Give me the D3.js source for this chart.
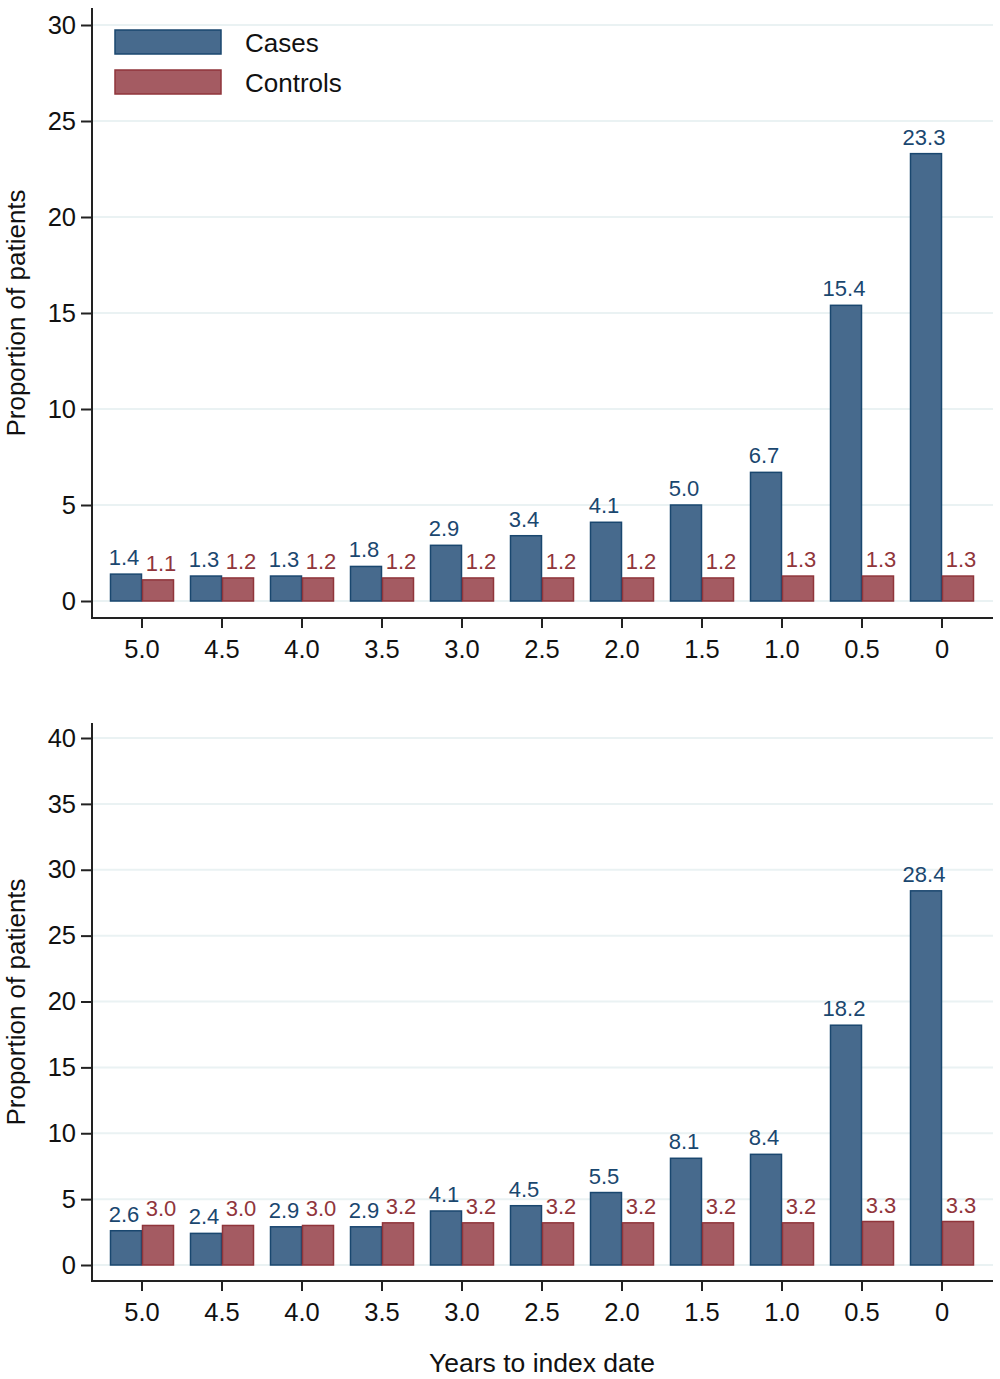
<!DOCTYPE html>
<html>
<head>
<meta charset="utf-8">
<script src="https://cdn.jsdelivr.net/npm/d3@7"></script>
<style>
  body { margin: 0; background: #fff; }
  svg { font-family: "Liberation Sans", Arial, sans-serif; }
</style>
</head>
<body>
<div id="viz"></div>
<script>
// Years to index date
const years = ["5.0", "4.5", "4.0", "3.5", "3.0", "2.5", "2.0", "1.5", "1.0", "0.5", "0"];
const seriesNames = ["Cases", "Controls"];

const topCases    = [1.4, 1.3, 1.3, 1.8, 2.9, 3.4, 4.1, 5.0, 6.7, 15.4, 23.3];
const topControls = [1.1, 1.2, 1.2, 1.2, 1.2, 1.2, 1.2, 1.2, 1.3, 1.3, 1.3];
const topTicks    = [0, 5, 10, 15, 20, 25, 30];

const botCases    = [2.6, 2.4, 2.9, 2.9, 4.1, 4.5, 5.5, 8.1, 8.4, 18.2, 28.4];
const botControls = [3.0, 3.0, 3.0, 3.2, 3.2, 3.2, 3.2, 3.2, 3.2, 3.3, 3.3];
const botTicks    = [0, 5, 10, 15, 20, 25, 30, 35, 40];

const width = 1000, height = 1379;
const fills   = ["#476a8d", "#a45b62"];
const strokes = ["#1a476f", "#90353b"];
const labelShift = [-2, 3];
const axisLeft = 92, axisRight = 993;

const svg = d3.select("#viz").append("svg")
    .attr("width", width)
    .attr("height", height);

const x = d3.scaleBand().domain(years).range([102, 982])
    .paddingInner(0.2).paddingOuter(0.1);
const xSub = d3.scaleBand().domain(seriesNames).range([0, x.bandwidth()]);

function drawPanel(cases, controls, ticks, axisTop, zeroY, maxY, xAxisY) {
    const y = d3.scaleLinear().domain([0, d3.max(ticks)]).range([zeroY, maxY]);
    const g = svg.append("g");

    // grid
    g.selectAll("line.grid").data(ticks).enter().append("line")
        .attr("x1", axisLeft + 1).attr("x2", axisRight)
        .attr("y1", d => y(d)).attr("y2", d => y(d))
        .attr("stroke", "#eaf2f3").attr("stroke-width", 2);

    // bars
    const rows = years.map((yr, i) => ({ yr, vals: [cases[i], controls[i]] }));
    const grp = g.selectAll("g.grp").data(rows).enter().append("g")
        .attr("transform", d => `translate(${x(d.yr)},0)`);

    grp.selectAll("rect").data(d => d.vals.map((v, k) => ({ v, k })))
        .enter().append("rect")
        .attr("x", d => xSub(seriesNames[d.k]) + 0.5)
        .attr("width", xSub.bandwidth() - 1)
        .attr("y", d => y(d.v))
        .attr("height", d => y(0) - y(d.v))
        .attr("fill", d => fills[d.k])
        .attr("stroke", d => strokes[d.k])
        .attr("stroke-width", 1.5);

    grp.selectAll("text").data(d => d.vals.map((v, k) => ({ v, k })))
        .enter().append("text")
        .attr("x", d => xSub(seriesNames[d.k]) + xSub.bandwidth() / 2 + labelShift[d.k])
        .attr("y", d => y(d.v) - 9)
        .attr("text-anchor", "middle")
        .attr("font-size", 22)
        .attr("fill", d => strokes[d.k])
        .text(d => d.v.toFixed(1));

    // y axis
    const yAxis = g.append("g")
        .attr("transform", `translate(${axisLeft},0)`)
        .call(d3.axisLeft(y).tickValues(ticks).tickSize(11).tickPadding(5).tickFormat(d3.format("d")));
    yAxis.select(".domain").remove();
    yAxis.selectAll(".tick line").attr("stroke", "#222").attr("stroke-width", 2);
    yAxis.selectAll(".tick text").attr("font-size", 25.5).attr("fill", "#111")
        .attr("font-family", "Liberation Sans, Arial, sans-serif");
    g.append("line")
        .attr("x1", axisLeft).attr("x2", axisLeft)
        .attr("y1", axisTop).attr("y2", xAxisY + 1)
        .attr("stroke", "#222").attr("stroke-width", 2);

    // x axis
    const xAxis = g.append("g")
        .attr("transform", `translate(0,${xAxisY})`)
        .call(d3.axisBottom(x).tickSize(10).tickPadding(12));
    xAxis.select(".domain").remove();
    xAxis.selectAll(".tick line").attr("stroke", "#222").attr("stroke-width", 2);
    xAxis.selectAll(".tick text").attr("font-size", 25.5).attr("fill", "#111")
        .attr("font-family", "Liberation Sans, Arial, sans-serif");
    g.append("line")
        .attr("x1", axisLeft - 1).attr("x2", axisRight)
        .attr("y1", xAxisY).attr("y2", xAxisY)
        .attr("stroke", "#222").attr("stroke-width", 2);

    // y title
    g.append("text")
        .attr("transform", `translate(25,${(axisTop + xAxisY) / 2}) rotate(-90)`)
        .attr("text-anchor", "middle")
        .attr("font-size", 26)
        .attr("fill", "#111")
        .text("Proportion of patients");
}

drawPanel(topCases, topControls, topTicks, 8, 601, 25, 618);
drawPanel(botCases, botControls, botTicks, 723, 1265, 738, 1281);

// x title
svg.append("text")
    .attr("x", 542).attr("y", 1372)
    .attr("text-anchor", "middle")
    .attr("font-size", 26.5)
    .attr("fill", "#111")
    .text("Years to index date");

// legend
const legend = svg.append("g");
seriesNames.forEach((name, k) => {
    legend.append("rect")
        .attr("x", 115).attr("y", 30 + k * 40)
        .attr("width", 106).attr("height", 24)
        .attr("fill", fills[k]).attr("stroke", strokes[k]).attr("stroke-width", 1.5);
    legend.append("text")
        .attr("x", 245).attr("y", 52 + k * 40)
        .attr("font-size", 26)
        .attr("fill", "#111")
        .text(name);
});
</script>
</body>
</html>
